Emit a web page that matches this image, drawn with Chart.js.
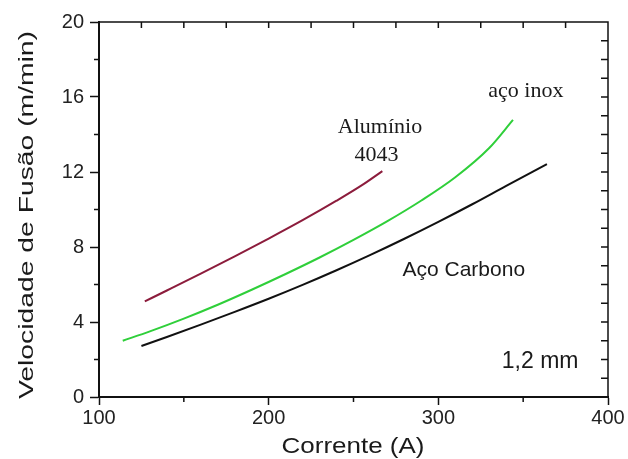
<!DOCTYPE html>
<html lang="pt">
<head>
<meta charset="UTF-8">
<title>Velocidade de Fusão x Corrente</title>
<script src="https://cdn.jsdelivr.net/npm/chart.js"></script>
<style>
  html, body { margin: 0; padding: 0; background: #fff; }
  #wrap { width: 628px; height: 459px; }
</style>
</head>
<body>
<div id="wrap"><canvas id="chart" width="628" height="459"></canvas></div>
<script>
// data
const correnteAluminio = [127, 140, 160, 180, 200, 220, 240, 255, 267];
const velAluminio      = [5.1, 5.68, 6.58, 7.5, 8.45, 9.43, 10.47, 11.3, 12.05];

const correnteInox = [114, 130, 150, 170, 190, 210, 230, 250, 270, 290, 310, 330, 344];
const velInox      = [3.0, 3.5, 4.18, 4.92, 5.72, 6.56, 7.44, 8.38, 9.38, 10.48, 11.72, 13.28, 14.78];

const correnteCarbono = [125, 140, 160, 180, 200, 220, 240, 260, 280, 300, 320, 340, 364];
const velCarbono      = [2.72, 3.2, 3.86, 4.54, 5.24, 5.98, 6.76, 7.58, 8.44, 9.34, 10.28, 11.26, 12.42];

const xTicks = [100, 200, 300, 400];
const yTicks = [0, 4, 8, 12, 16, 20];
const xMinor = [150, 250, 350];
const yMinor = [2, 6, 10, 14, 18];

const pts = (xs, ys) => xs.map((v, i) => ({ x: v, y: ys[i] }));

// text placed in data coordinates
const notes = [
  { text: 'Alumínio', x: 265.6, y: 14.4, font: '22px "Liberation Serif"' },
  { text: '4043', x: 263.5, y: 12.9, font: '22px "Liberation Serif"' },
  { text: 'aço inox', x: 351.6, y: 16.3, font: '22px "Liberation Serif"' },
  { text: 'Aço Carbono', x: 315, y: 6.76, font: '21px "Liberation Sans"' },
  { text: '1,2 mm', x: 360, y: 1.86, font: '23px "Liberation Sans"' }
];

function fitText(ctx, text, cx, cy, width) {
  const w = ctx.measureText(text).width;
  ctx.save();
  ctx.translate(cx, cy);
  ctx.scale(width / w, 1);
  ctx.fillText(text, 0, 0);
  ctx.restore();
}

const extras = {
  id: 'extras',
  afterDraw(chart) {
    const { ctx, chartArea: a, scales: { x, y } } = chart;
    ctx.save();
    ctx.strokeStyle = '#111';
    ctx.lineWidth = 1.5;
    ctx.beginPath();
    // top and right frame
    ctx.moveTo(a.left, a.top); ctx.lineTo(a.right, a.top); ctx.lineTo(a.right, a.bottom);
    xMinor.forEach(v => {
      const px = x.getPixelForValue(v);
      ctx.moveTo(px, a.bottom); ctx.lineTo(px, a.bottom + 5);
    });
    yMinor.forEach(v => {
      const py = y.getPixelForValue(v);
      ctx.moveTo(a.left, py); ctx.lineTo(a.left - 5, py);
    });
    for (let v = 125; v < 400; v += 25) {
      const px = x.getPixelForValue(v);
      ctx.moveTo(px, a.top); ctx.lineTo(px, a.top + 6);
    }
    for (let v = 1; v < 20; v++) {
      const py = y.getPixelForValue(v);
      ctx.moveTo(a.right, py); ctx.lineTo(a.right - 7, py);
    }
    ctx.stroke();

    ctx.fillStyle = '#1a1a1a';
    ctx.textAlign = 'center';
    ctx.textBaseline = 'middle';
    notes.forEach(n => {
      ctx.font = n.font;
      ctx.fillText(n.text, x.getPixelForValue(n.x), y.getPixelForValue(n.y));
    });

    // axis titles
    ctx.textBaseline = 'alphabetic';
    ctx.font = '22px "Liberation Sans"';
    fitText(ctx, 'Corrente (A)', 353, 453, 143);
    ctx.save();
    ctx.translate(33, 215);
    ctx.rotate(-Math.PI / 2);
    ctx.font = '21px "Liberation Sans"';
    fitText(ctx, 'Velocidade de Fusão (m/min)', 0, 0, 368);
    ctx.restore();
    ctx.restore();
  }
};

const line = (data, color) => ({
  data: data,
  showLine: true,
  borderColor: color,
  borderWidth: 2,
  pointRadius: 0,
  cubicInterpolationMode: 'monotone',
  fill: false
});

new Chart(document.getElementById('chart').getContext('2d'), {
  type: 'scatter',
  data: {
    datasets: [
      line(pts(correnteAluminio, velAluminio), '#8c1c3c'),
      line(pts(correnteInox, velInox), '#2fcf3a'),
      line(pts(correnteCarbono, velCarbono), '#111111')
    ]
  },
  options: {
    responsive: false,
    animation: false,
    layout: { padding: { top: 22, right: 20, left: 0, bottom: 0 } },
    plugins: { legend: { display: false }, tooltip: { enabled: false } },
    scales: {
      x: {
        type: 'linear', min: 100, max: 400,
        afterBuildTicks: s => { s.ticks = xTicks.map(v => ({ value: v })); },
        afterFit: s => { s.height = 62; },
        ticks: { font: { family: 'Liberation Sans', size: 20 }, color: '#222', padding: 1, maxRotation: 0 },
        grid: { drawOnChartArea: false, tickLength: 8, color: '#111', tickWidth: 1.5 },
        border: { color: '#111', width: 2 }
      },
      y: {
        type: 'linear', min: 0, max: 20,
        afterBuildTicks: s => { s.ticks = yTicks.map(v => ({ value: v })); },
        afterFit: s => { s.width = 99; },
        ticks: { font: { family: 'Liberation Sans', size: 20 }, color: '#222', padding: 6 },
        grid: { drawOnChartArea: false, tickLength: 9, color: '#111', tickWidth: 1.5 },
        border: { color: '#111', width: 2 }
      }
    }
  },
  plugins: [extras]
});
</script>
</body>
</html>
